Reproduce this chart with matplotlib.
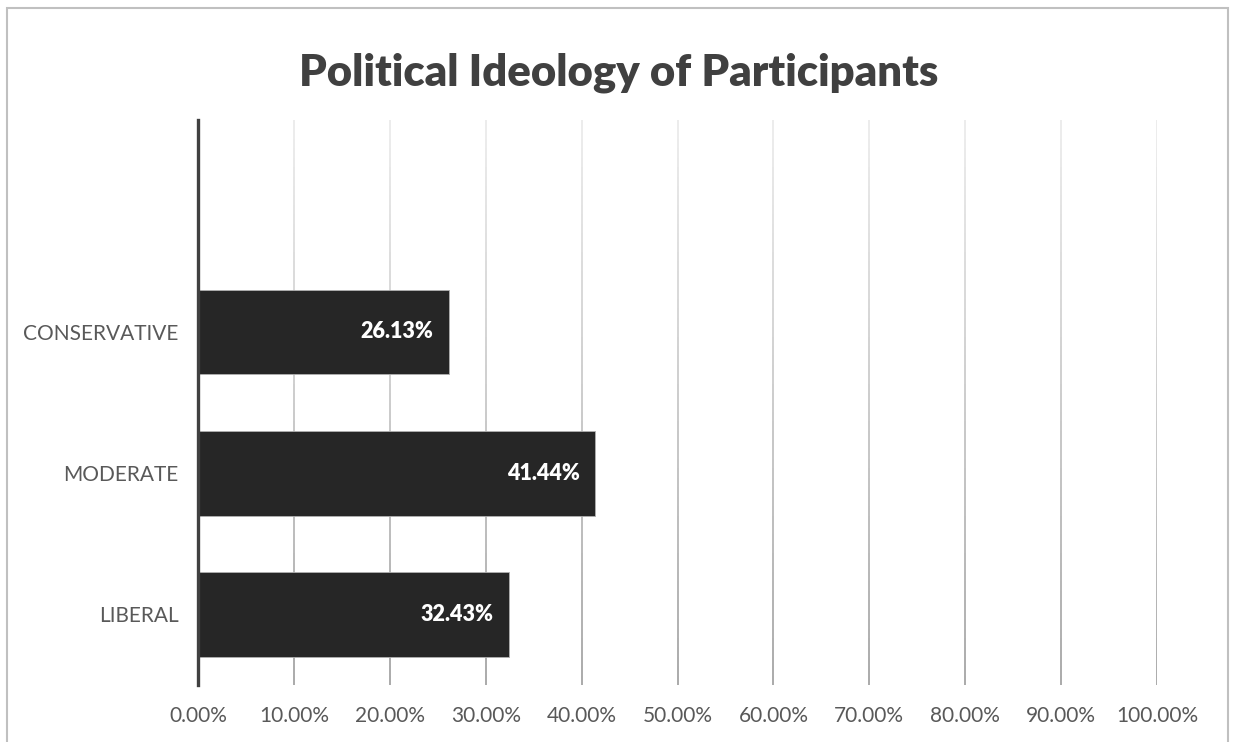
import numpy as np
import matplotlib
matplotlib.use("Agg")
import matplotlib.pyplot as plt
from matplotlib.collections import LineCollection
from matplotlib.patches import Rectangle
from matplotlib.colors import to_rgb

# ---- data ----
categories = ["LIBERAL", "MODERATE", "CONSERVATIVE", ""]
values = [32.43, 41.44, 26.13, None]
value_labels = ["32.43%", "41.44%", "26.13%"]
x_ticks = [0, 10, 20, 30, 40, 50, 60, 70, 80, 90, 100]
x_tick_labels = ["0.00%", "10.00%", "20.00%", "30.00%", "40.00%", "50.00%",
                 "60.00%", "70.00%", "80.00%", "90.00%", "100.00%"]
title = "Political Ideology of Participants"

plt.rcParams['font.family'] = ['Lato', 'DejaVu Sans']

W, H = 1233, 742
fig = plt.figure(figsize=(W / 100, H / 100), dpi=100)
fig.patch.set_facecolor("white")

ax = fig.add_axes([198 / W, 1 - 685 / H, (1157 - 198) / W, (685 - 120) / H])
ax.set_xlim(0, 100)
ax.set_ylim(-0.5, len(categories) - 0.5)

# gradient gridlines
ylo, yhi = -0.5, len(categories) - 0.5
n = 60
ys = np.linspace(ylo, yhi, n + 1)
top_c = np.array(to_rgb("#ececec"))
bot_c = np.array(to_rgb("#a3a3a3"))
segs, cols = [], []
for xt in x_ticks[1:]:
    for i in range(n):
        segs.append([(xt, ys[i]), (xt, ys[i + 1])])
        t = (ys[i] + ys[i + 1]) / 2
        f = (t - ylo) / (yhi - ylo)
        cols.append(tuple(bot_c * (1 - f) + top_c * f))
lc = LineCollection(segs, colors=cols, linewidths=1.3, zorder=1)
ax.add_collection(lc)

ypos = np.arange(len(categories))
for y, v in zip(ypos, values):
    if v is None:
        continue
    ax.barh(y, v, height=0.6, color="#262626", edgecolor="#b0b0b0",
            linewidth=0.6, zorder=2)
for y, v, lab in zip(ypos, values, value_labels):
    ax.text(v - 1.6, y, lab, ha="right", va="center", color="white",
            fontsize=15.5, fontweight="heavy", zorder=3)

ax.set_yticks(ypos)
ax.set_yticklabels(categories)
ax.set_xticks(x_ticks)
ax.set_xticklabels(x_tick_labels)
ax.tick_params(axis="both", length=0, labelsize=15, labelcolor="#595959")
ax.tick_params(axis="x", pad=15)
ax.tick_params(axis="y", pad=14)

for s in ["top", "right", "bottom"]:
    ax.spines[s].set_visible(False)
ax.spines["left"].set_color("#404040")
ax.spines["left"].set_linewidth(2.4)
ax.spines["left"].set_zorder(4)

fig.text(0.5 * (300 + 937) / W, 1 - 73 / H, title, ha="center", va="center",
         fontsize=31.4, fontweight="heavy", color="#404040")

# figure border (bottom edge cut off)
fig.patches.append(Rectangle((7 / W, -0.05), (1228 - 7) / W, 1.05 - 8 / H,
                             transform=fig.transFigure, fill=False,
                             edgecolor="#c0c0c0", linewidth=1.5))

fig.savefig("out.png", dpi=100)
